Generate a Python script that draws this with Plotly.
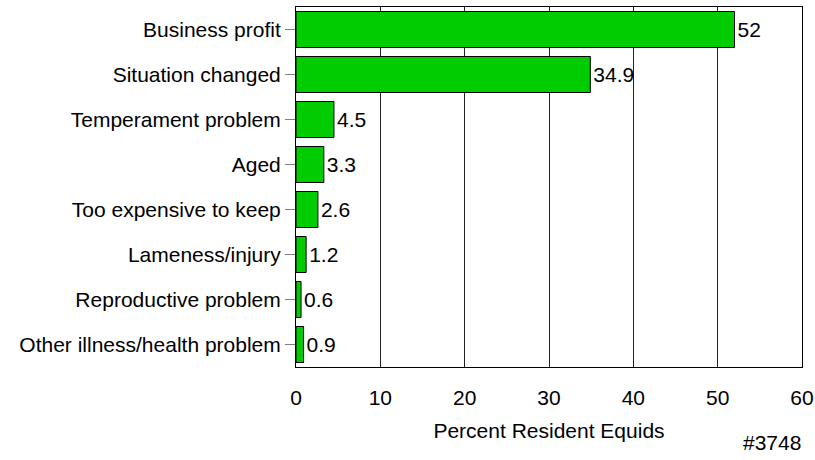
import plotly.graph_objects as go

categories = ["Business profit", "Situation changed", "Temperament problem", "Aged",
              "Too expensive to keep", "Lameness/injury", "Reproductive problem",
              "Other illness/health problem"]
values = [52, 34.9, 4.5, 3.3, 2.6, 1.2, 0.6, 0.9]
labels = ["52", "34.9", "4.5", "3.3", "2.6", "1.2", "0.6", "0.9"]

FS = 21

fig = go.Figure(go.Bar(
    x=values, y=categories, orientation="h",
    marker=dict(color="#00CC00", line=dict(color="black", width=1)),
    text=labels, textposition="outside", cliponaxis=False,
    textfont=dict(color="black", size=FS, family="Liberation Sans, Arial"),
    width=0.8,
))

fig.update_layout(
    width=815, height=460,
    margin=dict(l=296, r=13, t=7, b=93, autoexpand=False),
    paper_bgcolor="white", plot_bgcolor="white",
    font=dict(family="Liberation Sans, Arial", size=FS, color="black"),
    showlegend=False,
    xaxis=dict(range=[0, 60], tickvals=[0, 10, 20, 30, 40, 50, 60],
               automargin=False,
               showgrid=True, gridcolor="#222", gridwidth=1,
               showline=True, linecolor="black", linewidth=1, mirror=True,
               ticks="outside", ticklen=12, tickcolor="rgba(0,0,0,0)",
               zeroline=False,
               title=dict(text="Percent Resident Equids", standoff=15,
                          font=dict(size=FS))),
    yaxis=dict(categoryorder="array", categoryarray=categories[::-1],
               autorange=False, range=[-0.5, 7.5], automargin=False,
               showline=True, linecolor="black", linewidth=1, mirror=True,
               ticks="outside", ticklen=10, tickcolor="#808080",
               showgrid=False),
    annotations=[dict(text="#3748", xref="paper", yref="paper", x=1.002, y=-0.211,
                      xanchor="right", yanchor="middle", showarrow=False,
                      font=dict(size=FS))],
)

fig.write_html("out.html", config={"displayModeBar": False},
               post_script="document.body.style.margin='0';")
